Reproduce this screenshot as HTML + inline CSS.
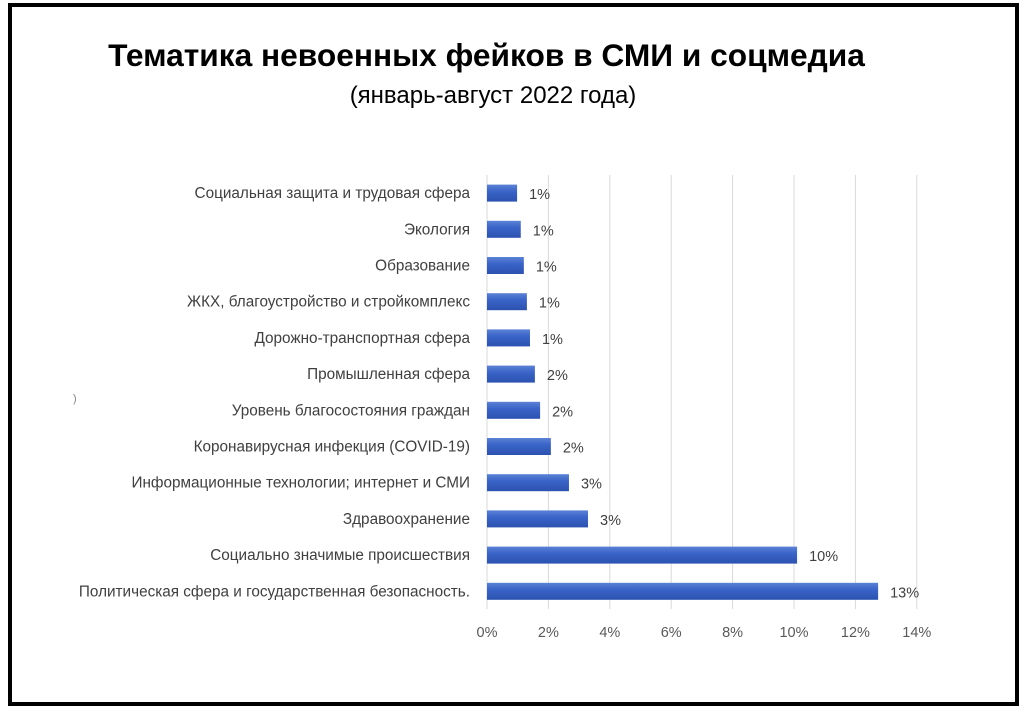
<!DOCTYPE html>
<html><head><meta charset="utf-8"><style>
body{margin:0;width:1024px;height:713px;background:#fff;position:relative;overflow:hidden;font-family:"Liberation Sans",sans-serif}
#frame{position:absolute;left:8px;top:3px;width:1003px;height:695px;border:4px solid #000}
#title{position:absolute;left:0;width:973px;text-align:center;top:37px;font-size:31.7px;font-weight:bold;color:#000}
#sub{position:absolute;left:0;width:986px;text-align:center;top:82px;font-size:24px;color:#000}
svg{position:absolute;left:0;top:0}
</style></head><body>
<div id="frame"></div>
<div id="title">Тематика невоенных фейков в СМИ и соцмедиа</div>
<div id="sub">(январь-август 2022 года)</div>
<svg id="chart" width="1024" height="713">
<defs><linearGradient id="g" x1="0" y1="0" x2="0" y2="1"><stop offset="0" stop-color="#5b82d6"/><stop offset="0.4" stop-color="#3a64c8"/><stop offset="1" stop-color="#2c52b0"/></linearGradient></defs>
<text x="73" y="402" font-size="11" fill="#888">)</text>
</svg>
<script>
const categories=["Социальная защита и трудовая сфера","Экология","Образование","ЖКХ, благоустройство и стройкомплекс","Дорожно-транспортная сфера","Промышленная сфера","Уровень благосостояния граждан","Коронавирусная инфекция (COVID-19)","Информационные технологии; интернет и СМИ","Здравоохранение","Социально значимые происшествия","Политическая сфера и государственная безопасность."];
const values=[0.98,1.1,1.2,1.3,1.4,1.56,1.73,2.08,2.67,3.29,10.1,12.74];
const valueLabels=["1%","1%","1%","1%","1%","2%","2%","2%","3%","3%","10%","13%"];
const ticks=[0,2,4,6,8,10,12,14];
const tickLabels=["0%","2%","4%","6%","8%","10%","12%","14%"];
const svg=document.getElementById('chart'),NS='http://www.w3.org/2000/svg';
const x0=487,pxPer=30.7,yTop=175,rowH=36.2,barH=17,yBottom=609;
const xs=v=>x0+v*pxPer;
const yc=i=>yTop+rowH*(i+0.5);
function mk(t,a){const e=document.createElementNS(NS,t);for(const k in a)e.setAttribute(k,a[k]);svg.appendChild(e);return e;}
ticks.forEach((t,i)=>{
 const l=mk('line',{x1:xs(t),x2:xs(t),y1:yTop,y2:yBottom,stroke:'#d9d9d9','stroke-width':1});
 
 
 const tx=mk('text',{x:xs(t),y:637,'text-anchor':'middle','font-size':14.5,fill:'#595959','font-family':'Liberation Sans, sans-serif'});
 tx.textContent=tickLabels[i];
 
 
});
categories.forEach((c,i)=>{
 const y=yc(i);
 const r=mk('rect',{x:x0,y:y-barH/2,width:xs(values[i])-x0,height:barH,fill:'url(#g)'});
 
 
 const lab=mk('text',{x:470,y:y+5,'text-anchor':'end','font-size':15.3,fill:'#404040','font-family':'Liberation Sans, sans-serif'});
 lab.textContent=c;
 
 
 const v=mk('text',{x:xs(values[i])+12,y:y+6,'font-size':14.5,fill:'#404040','font-family':'Liberation Sans, sans-serif'});
 v.textContent=valueLabels[i];
 
 
});
</script>
</body></html>
